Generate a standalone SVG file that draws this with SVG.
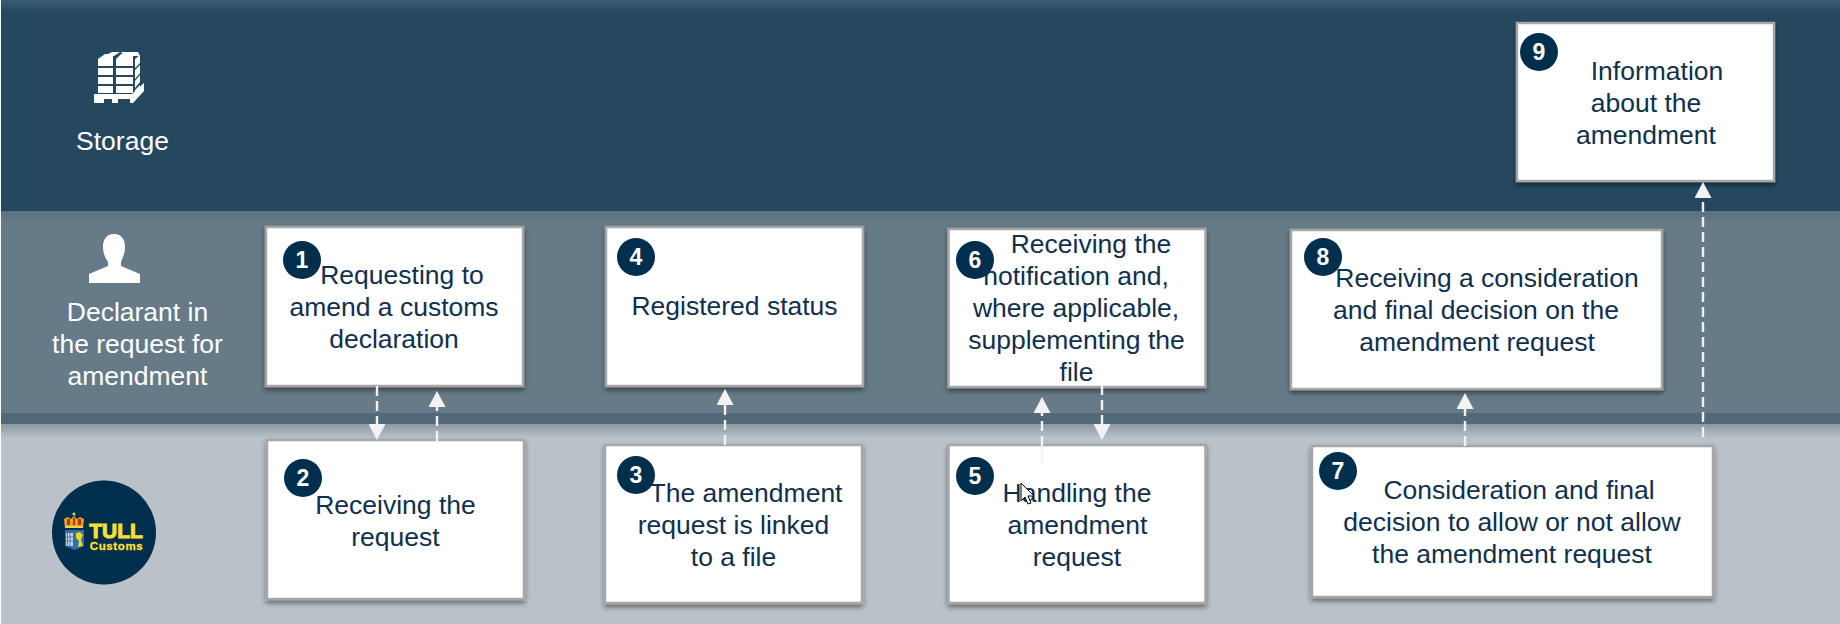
<svg xmlns="http://www.w3.org/2000/svg" width="1840" height="624" viewBox="0 0 1840 624">
<style>
.box{fill:#fff;stroke:#a6a6a6;stroke-width:2.5;filter:url(#sh)}
.t{font-family:"Liberation Sans",Arial,sans-serif;font-size:26.5px;fill:#10304d;text-anchor:middle}
.w{font-family:"Liberation Sans",Arial,sans-serif;font-size:26.5px;fill:#fff;text-anchor:middle}
.badge{fill:#002e4d}
.n{font-family:"Liberation Sans",Arial,sans-serif;font-size:23px;font-weight:700;fill:#fff;text-anchor:middle}
.conn{fill:none;stroke:#f2f2f2;stroke-width:2.4;stroke-dasharray:10 5}
.up{marker-end:url(#ah)}
</style>
<defs>
<marker id="ah" markerUnits="userSpaceOnUse" markerWidth="17" markerHeight="17" refX="0" refY="8.500" orient="auto"><path d="M0,0L16,8.500L0,17Z" fill="#f2f2f2"/></marker>
<filter id="sh" x="-10%" y="-10%" width="120%" height="125%"><feDropShadow dx="0" dy="3" stdDeviation="2.5" flood-color="#000" flood-opacity="0.45"/></filter>
<linearGradient id="g1" x1="0" y1="0" x2="0" y2="1"><stop offset="0" stop-color="#3a5d75"/><stop offset="1" stop-color="#25485f"/></linearGradient>
<linearGradient id="g2" x1="0" y1="0" x2="0" y2="1"><stop offset="0" stop-color="#5b717e"/><stop offset="1" stop-color="#667b87"/></linearGradient>
<linearGradient id="g3" x1="0" y1="0" x2="0" y2="1"><stop offset="0" stop-color="#8d979f"/><stop offset="1" stop-color="#b9c2c9"/></linearGradient>
</defs>
<rect x="0" y="0" width="1840" height="624" fill="#fff"/>
<g id="bands">
<rect x="1" y="0" width="1839" height="211" fill="#25485f"/>
<rect x="1" y="0" width="1839" height="12" fill="url(#g1)"/>
<rect x="1" y="211" width="1839" height="202" fill="#667b87"/>
<rect x="1" y="211" width="1839" height="12" fill="url(#g2)"/>
<rect x="1" y="413" width="1839" height="11" fill="#52697a"/>
<rect x="1" y="424" width="1839" height="200" fill="#b9c2c9"/>
<rect x="1" y="424" width="1839" height="14" fill="url(#g3)"/>
</g>
<g id="lane-storage">
<g fill="#fff">
<path d="M94,94H132L144,83V91L133,103H130V99H118V103H112V99H104V103H94Z"/>
<path d="M98,68H113V75H98ZM98,77H113V84H98ZM98,86H113V93H98Z"/>
<path d="M98,59L105,54H113V66H98Z"/>
<path d="M116,59L121,54H133V66H116ZM116,68H133V75H116ZM116,77H133V84H116ZM116,86H133V93H116Z"/>
<path d="M106,55L112,52H120L114,56ZM121,52H138L140,56H124Z"/>
<path d="M135,59L140,55V63L135,68ZM135,70L140,65V73L135,79ZM135,81L140,75V82L135,88ZM135,90L140,85V88L135,93Z"/>
</g>
<text class="w" x="122.500" y="150">Storage</text>
</g>
<g id="lane-declarant">
<path fill="#fff" d="M114,234C122,234 125,240 125,247C125,254 122,259 121,262V266L140,274V283H89V274L108,266V262C106,259 103,254 103,247C103,240 106,234 114,234Z"/>
<text class="w"><tspan x="137.500" y="321">Declarant in</tspan><tspan x="137.500" y="353">the request for</tspan><tspan x="137.500" y="385">amendment</tspan></text>
</g>
<g id="lane-customs-logo">
<circle cx="104" cy="532.500" r="52" fill="#002e4d"/>
<path d="M65,528L64,519L68,517L71,519L74,516L77,519L80,517L84,519L83,528Z" fill="#e0a820"/>
<path d="M67,519H70V525H67ZM73,518H75V525H73ZM78,519H81V525H78Z" fill="#c8281e"/>
<path d="M65,526H83V528H65Z" fill="#f5d040"/>
<circle cx="74" cy="514" r="1.500" fill="#f5d040"/>
<path d="M65,530H84V546L74.500,550L65,546Z" fill="#2f6fa8"/>
<path d="M66,533H73V546H66Z" fill="#c9d3dd"/>
<path d="M67.500,533V546M70,533V546M66,537H73M66,541H73" stroke="#2f6fa8" stroke-width="0.800" fill="none"/>
<path d="M76,533L80,532L83,535L81,540L83,546L78,547L79,541L76,538Z" fill="#f1d21e"/>
<text x="116" y="538" text-anchor="middle" font-family="Liberation Sans,Arial,sans-serif" font-size="21" font-weight="700" fill="#ffe033" stroke="#ffe033" stroke-width="1">TULL</text>
<text x="116.500" y="549.500" text-anchor="middle" font-family="Liberation Sans,Arial,sans-serif" font-size="11.500" font-weight="700" letter-spacing="0.600" fill="#ffe033" stroke="#ffe033" stroke-width="0.300">Customs</text>
</g>
<g id="node-1"><rect class="box" x="266" y="227" width="257" height="159"/><circle class="badge" cx="302" cy="260" r="19"/><text class="n" x="302" y="268">1</text><text class="t"><tspan x="402" y="283.500">Requesting to</tspan><tspan x="394" y="315.500">amend a customs</tspan><tspan x="394" y="347.500">declaration</tspan></text></g>
<g id="node-2"><rect class="box" x="267" y="440" width="257" height="159"/><circle class="badge" cx="303" cy="478" r="19"/><text class="n" x="303" y="486">2</text><text class="t"><tspan x="395.500" y="513.500">Receiving the</tspan><tspan x="395.500" y="545.500">request</tspan></text></g>
<g id="node-3"><rect class="box" x="605" y="445" width="257" height="158"/><circle class="badge" cx="636" cy="475" r="19"/><text class="n" x="636" y="483">3</text><text class="t"><tspan x="746" y="502">The amendment</tspan><tspan x="733.500" y="534">request is linked</tspan><tspan x="733.500" y="566">to a file</tspan></text></g>
<g id="node-4"><rect class="box" x="606" y="227" width="257" height="159"/><circle class="badge" cx="636" cy="257" r="19"/><text class="n" x="636" y="265">4</text><text class="t" x="734.500" y="315">Registered status</text></g>
<g id="node-5"><rect class="box" x="948.500" y="445" width="257" height="158"/><circle class="badge" cx="975" cy="476" r="19"/><text class="n" x="975" y="484">5</text><text class="t"><tspan x="1077" y="502">Handling the</tspan><tspan x="1077.500" y="534">amendment</tspan><tspan x="1077" y="566">request</tspan></text></g>
<g id="node-6"><rect class="box" x="948.500" y="229" width="257" height="158"/><text class="t"><tspan x="1091" y="253">Receiving the</tspan><tspan x="1076" y="285">notification and,</tspan><tspan x="1076" y="317">where applicable,</tspan><tspan x="1076.500" y="349">supplementing the</tspan><tspan x="1076.500" y="381">file</tspan></text><circle class="badge" cx="975" cy="260" r="19"/><text class="n" x="975" y="268">6</text></g>
<g id="node-7"><rect class="box" x="1312" y="446" width="401" height="151"/><circle class="badge" cx="1338" cy="471" r="19"/><text class="n" x="1338" y="479">7</text><text class="t"><tspan x="1519" y="498.500">Consideration and final</tspan><tspan x="1512" y="530.500">decision to allow or not allow</tspan><tspan x="1512" y="562.500">the amendment request</tspan></text></g>
<g id="node-8"><rect class="box" x="1291" y="230" width="371" height="159"/><circle class="badge" cx="1323" cy="257" r="19"/><text class="n" x="1323" y="265">8</text><text class="t"><tspan x="1487" y="286.500">Receiving a consideration</tspan><tspan x="1476" y="318.500">and final decision on the</tspan><tspan x="1477" y="350.500">amendment request</tspan></text></g>
<g id="node-9"><rect class="box" x="1517" y="23" width="257" height="158"/><circle class="badge" cx="1539" cy="52" r="19"/><text class="n" x="1539" y="60">9</text><text class="t"><tspan x="1657" y="80">Information</tspan><tspan x="1646" y="112">about the</tspan><tspan x="1646" y="144">amendment</tspan></text></g>
<g id="connectors">
<path class="conn up" d="M377,386V424"/>
<path class="conn up" d="M437,441V407"/>
<path class="conn up" d="M725,445V405"/>
<path class="conn up" d="M1042,446V413"/>
<path d="M1042,447V463" stroke="#f5f5f5" stroke-width="3" fill="none"/>
<path class="conn up" d="M1102,385V424"/>
<path class="conn up" d="M1465,446V409"/>
<path class="conn up" d="M1703,437V198"/>
</g>
<path id="cursor" d="M1021,483V501L1025,497L1028,504L1031,503L1028,496H1034Z" fill="#fff" stroke="#000" stroke-width="1"/>
</svg>
